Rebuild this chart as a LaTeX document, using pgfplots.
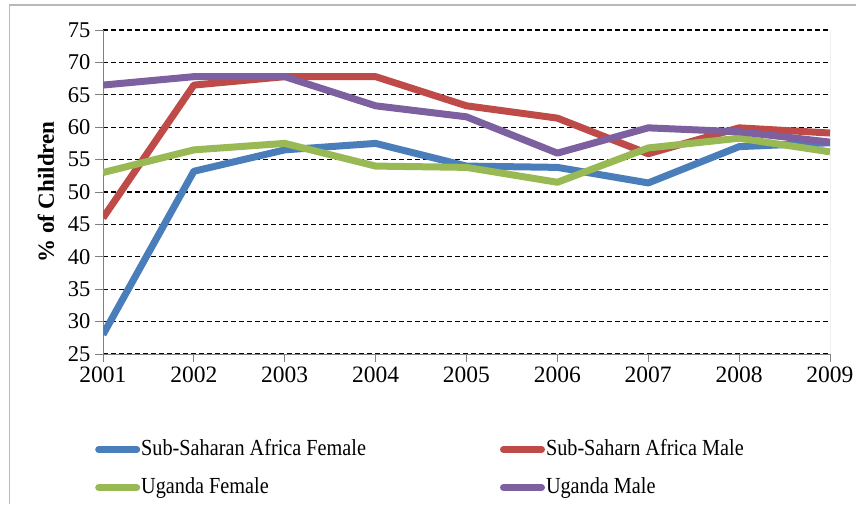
\documentclass[border=0pt]{standalone}
\usepackage{pgfplots}
\pgfplotsset{compat=1.18}
\usepackage{fontspec}
\setmainfont{Liberation Serif}
\newfontfamily\condfont[FakeStretch=0.88]{Liberation Serif}

\definecolor{sblue}{HTML}{4A7EBB}
\definecolor{sred}{HTML}{BE4B48}
\definecolor{sgreen}{HTML}{98B954}
\definecolor{spurple}{HTML}{7D60A0}

\begin{document}
\begin{tikzpicture}[x=1pt,y=1pt]
\useasboundingbox (0,0) rectangle (856,504);
\draw[gray!55, line width=1.5pt] (9.5,0) -- (9.5,499) -- (860,499);
\begin{axis}[
    at={(103pt,150pt)}, anchor=south west,
    scale only axis,
    width=727pt, height=324pt,
    xmin=2001, xmax=2009,
    ymin=25, ymax=75,
    xtick={2001,2002,...,2009},
    ytick={25,30,...,75},
    axis lines=left,
    axis line style={-, gray, line width=0.8pt},
    tick align=outside,
    major tick length=8pt,
    tick style={gray, line width=0.8pt},
    ymajorgrids,
    major grid style={black, line width=1.2pt, dash pattern=on 5pt off 3pt},
    /pgf/number format/assume math mode=true,
    /pgf/number format/1000 sep={},
    x tick label style={font=\fontsize{23.5}{25}\selectfont, yshift=-1pt},
    y tick label style={font=\fontsize{22.5}{24}\selectfont, xshift=-1pt},
    ylabel={\% of Children},
    ylabel style={font=\bfseries\fontsize{23}{26}\selectfont,
        at={(axis description cs:-0.0784,0.5)}, anchor=center},
    legend columns=2,
    legend cell align=left,
    legend style={draw=none, fill=none,
        at={(axis description cs:-0.011,-0.262)}, anchor=north west,
        inner sep=0pt, row sep=17pt,
        font=\condfont\fontsize{23}{25}\selectfont,
        nodes={inner xsep=1pt, inner ysep=0pt, text height=16pt, text depth=5pt},
        /tikz/every even column/.append style={column sep=133pt}},
    legend image code/.code={
        \draw[line width=7pt, line cap=round, #1] (3.5pt,0pt) -- (41.5pt,0pt);},
    every axis plot/.append style={line width=7pt, line join=round},
]
\addplot[sblue] coordinates {
    (2001,28.0) (2002,53.2) (2003,56.5) (2004,57.5) (2005,54.0)
    (2006,53.8) (2007,51.4) (2008,57.0) (2009,57.6)
};
\addlegendentry{Sub-Saharan Africa Female}
\addplot[sred] coordinates {
    (2001,46.0) (2002,66.5) (2003,67.8) (2004,67.8) (2005,63.3)
    (2006,61.4) (2007,55.9) (2008,59.9) (2009,59.1)
};
\addlegendentry{Sub-Saharn Africa Male}
\addplot[sgreen] coordinates {
    (2001,53.0) (2002,56.5) (2003,57.5) (2004,54.0) (2005,53.8)
    (2006,51.5) (2007,56.8) (2008,58.3) (2009,56.2)
};
\addlegendentry{Uganda Female}
\addplot[spurple] coordinates {
    (2001,66.5) (2002,67.8) (2003,67.8) (2004,63.3) (2005,61.6)
    (2006,56.0) (2007,59.9) (2008,59.3) (2009,57.7)
};
\addlegendentry{Uganda Male}
\draw[gray, line width=0.8pt] (rel axis cs:1,0) -- (rel axis cs:1,1);
\end{axis}
\end{tikzpicture}
\end{document}
